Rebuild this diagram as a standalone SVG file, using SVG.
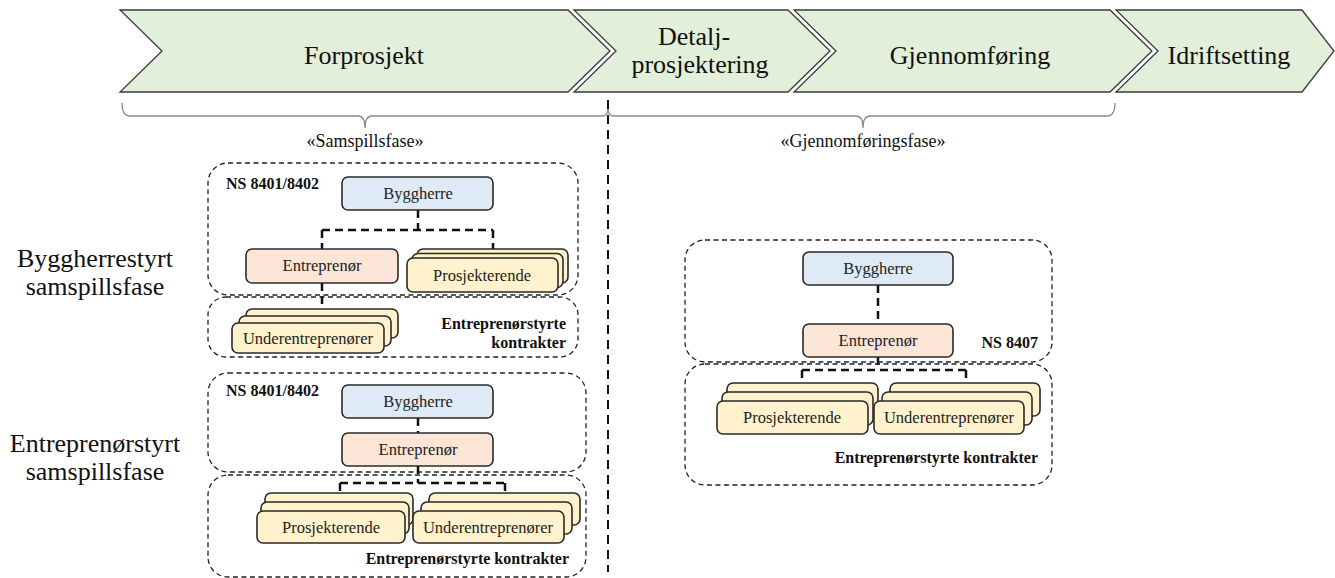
<svg xmlns="http://www.w3.org/2000/svg" width="1335" height="578" viewBox="0 0 1335 578">
  <defs>
    <style>
      .phase { fill: #e2efda; stroke: #3a3a3a; stroke-width: 1.3; }
      .phase-t { font-family: "Liberation Serif", "Times New Roman", serif; font-size: 26px; fill: #111; text-anchor: middle; }
      .side-t { font-family: "Liberation Serif", "Times New Roman", serif; font-size: 26px; fill: #111; text-anchor: middle; }
      .fase-t { font-family: "Liberation Serif", "Times New Roman", serif; font-size: 18px; fill: #111; text-anchor: middle; }
      .brace { fill: none; stroke: #8a8a8a; stroke-width: 1.3; }
      .divider { fill: none; stroke: #111; stroke-width: 2; stroke-dasharray: 9 6; }
      .frame { fill: none; stroke: #222; stroke-width: 1.3; stroke-dasharray: 5 3.5; }
      .box { stroke: #2a2a2a; stroke-width: 1.6; }
      .client { fill: #deebf7; }
      .contractor { fill: #fbe5d6; }
      .sub { fill: #fff2cc; }
      .label { font-family: "Liberation Serif", "Times New Roman", serif; font-size: 16.5px; fill: #222; text-anchor: middle; }
      .std { font-family: "Liberation Serif", "Times New Roman", serif; font-size: 16px; font-weight: bold; fill: #111; }
      .link { fill: none; stroke: #111; stroke-width: 2.5; stroke-dasharray: 8 5; }
    </style>
  </defs>

  <rect width="1335" height="578" fill="#ffffff"/>

  <!-- Phase chevrons -->
  <g id="phases">
    <g id="phase-forprosjekt">
      <polygon class="phase" points="120,10 568,10 610,51 568,92 120,92 162,51"/>
      <text class="phase-t" x="364" y="64">Forprosjekt</text>
    </g>
    <g id="phase-detaljprosjektering">
      <polygon class="phase" points="574,10 788,10 830,51 788,92 574,92 616,51"/>
      <text class="phase-t" x="694" y="45">Detalj-</text>
      <text class="phase-t" x="700" y="73">prosjektering</text>
    </g>
    <g id="phase-gjennomforing">
      <polygon class="phase" points="794,10 1110,10 1152,51 1110,92 794,92 836,51"/>
      <text class="phase-t" x="970" y="64">Gjennomføring</text>
    </g>
    <g id="phase-idriftsetting">
      <polygon class="phase" points="1116,10 1302,10 1334,51 1302,92 1116,92 1158,51"/>
      <text class="phase-t" x="1229" y="64">Idriftsetting</text>
    </g>
  </g>

  <!-- Braces under the phases -->
  <g id="braces">
    <path class="brace" d="M122,103 Q122,116 130,116 L358,116 Q365,116 365,128 Q365,116 372,116 L602,116 Q608,116 608,109"/>
    <path class="brace" d="M608,109 Q608,116 614,116 L856,116 Q863,116 863,128 Q863,116 870,116 L1107,116 Q1115,116 1115,103"/>
    <text class="fase-t" x="365" y="147">«Samspillsfase»</text>
    <text class="fase-t" x="863" y="147">«Gjennomføringsfase»</text>
  </g>

  <line class="divider" x1="608" y1="100" x2="608" y2="572"/>

  <!-- Row labels -->
  <g id="row-labels">
    <text class="side-t" x="95" y="267">Byggherrestyrt</text>
    <text class="side-t" x="95" y="295">samspillsfase</text>
    <text class="side-t" x="95" y="452">Entreprenørstyrt</text>
    <text class="side-t" x="95" y="480">samspillsfase</text>
  </g>

  <!-- Frames -->
  <g id="frames">
    <rect class="frame" x="208" y="163" width="370" height="132" rx="20"/>
    <rect class="frame" x="208" y="297" width="370" height="60" rx="18"/>
    <rect class="frame" x="208" y="373" width="378" height="99" rx="20"/>
    <rect class="frame" x="208" y="475" width="378" height="102" rx="20"/>
    <rect class="frame" x="685" y="240" width="367" height="122" rx="20"/>
    <rect class="frame" x="685" y="364" width="367" height="121" rx="20"/>
  </g>

  <!-- Connectors -->
  <g id="connectors">
    <path class="link" d="M418,210 L418,230 M322,230 L493,230 M322,230 L322,249 M493,230 L493,249"/>
    <path class="link" d="M322,283 L322,310"/>
    <path class="link" d="M418,418 L418,433"/>
    <path class="link" d="M418,466 L418,483 M340,483 L505,483 M340,483 L340,493 M505,483 L505,493"/>
    <path class="link" d="M878,285 L878,324"/>
    <path class="link" d="M878,357 L878,370 M802,370 L966,370 M802,370 L802,383 M966,370 L966,383"/>
  </g>

  <!-- Byggherrestyrt samspillsfase -->
  <g id="bs-standard">
    <text class="std" x="226" y="189">NS 8401/8402</text>
  </g>
  <g id="bs-byggherre">
    <rect class="box client" x="342" y="177" width="151" height="33" rx="6"/>
    <text class="label" x="418" y="199">Byggherre</text>
  </g>
  <g id="bs-entreprenor">
    <rect class="box contractor" x="246" y="249" width="152" height="34" rx="6"/>
    <text class="label" x="322" y="271">Entreprenør</text>
  </g>
  <g id="bs-prosjekterende">
    <rect class="box sub" x="417" y="249" width="151" height="34" rx="6"/>
    <rect class="box sub" x="412" y="253.5" width="151" height="34" rx="6"/>
    <rect class="box sub" x="407" y="258" width="151" height="34" rx="6"/>
    <text class="label" x="482" y="281">Prosjekterende</text>
  </g>
  <g id="bs-underentreprenorer">
    <rect class="box sub" x="246" y="309" width="152" height="29" rx="6"/>
    <rect class="box sub" x="239" y="316" width="152" height="30" rx="6"/>
    <rect class="box sub" x="232" y="323" width="152" height="30" rx="6"/>
    <text class="label" x="308" y="344">Underentreprenører</text>
  </g>
  <g id="bs-kontrakter">
    <text class="std" x="566" y="329" text-anchor="end">Entreprenørstyrte</text>
    <text class="std" x="566" y="348" text-anchor="end">kontrakter</text>
  </g>

  <!-- Entreprenørstyrt samspillsfase -->
  <g id="es-standard">
    <text class="std" x="226" y="396">NS 8401/8402</text>
  </g>
  <g id="es-byggherre">
    <rect class="box client" x="342" y="385" width="151" height="33" rx="6"/>
    <text class="label" x="418" y="407">Byggherre</text>
  </g>
  <g id="es-entreprenor">
    <rect class="box contractor" x="342" y="433" width="151" height="33" rx="6"/>
    <text class="label" x="418" y="455">Entreprenør</text>
  </g>
  <g id="es-prosjekterende">
    <rect class="box sub" x="265" y="493" width="148" height="32" rx="6"/>
    <rect class="box sub" x="261" y="502" width="148" height="32" rx="6"/>
    <rect class="box sub" x="257" y="511" width="148" height="32" rx="6"/>
    <text class="label" x="331" y="533">Prosjekterende</text>
  </g>
  <g id="es-underentreprenorer">
    <rect class="box sub" x="429" y="493" width="151" height="32" rx="6"/>
    <rect class="box sub" x="421" y="502" width="151" height="32" rx="6"/>
    <rect class="box sub" x="413" y="511" width="151" height="32" rx="6"/>
    <text class="label" x="488" y="533">Underentreprenører</text>
  </g>
  <g id="es-kontrakter">
    <text class="std" x="569" y="564" text-anchor="end">Entreprenørstyrte kontrakter</text>
  </g>

  <!-- Gjennomføringsfase -->
  <g id="gf-byggherre">
    <rect class="box client" x="803" y="252" width="150" height="33" rx="6"/>
    <text class="label" x="878" y="274">Byggherre</text>
  </g>
  <g id="gf-entreprenor">
    <rect class="box contractor" x="803" y="324" width="150" height="33" rx="6"/>
    <text class="label" x="878" y="346">Entreprenør</text>
  </g>
  <g id="gf-standard">
    <text class="std" x="1038" y="348" text-anchor="end">NS 8407</text>
  </g>
  <g id="gf-prosjekterende">
    <rect class="box sub" x="727" y="383" width="151" height="33" rx="6"/>
    <rect class="box sub" x="722" y="392" width="151" height="33" rx="6"/>
    <rect class="box sub" x="717" y="401" width="151" height="33" rx="6"/>
    <text class="label" x="792" y="423">Prosjekterende</text>
  </g>
  <g id="gf-underentreprenorer">
    <rect class="box sub" x="890" y="383" width="150" height="33" rx="6"/>
    <rect class="box sub" x="882" y="392" width="150" height="33" rx="6"/>
    <rect class="box sub" x="874" y="401" width="150" height="33" rx="6"/>
    <text class="label" x="949" y="423">Underentreprenører</text>
  </g>
  <g id="gf-kontrakter">
    <text class="std" x="1038" y="463" text-anchor="end">Entreprenørstyrte kontrakter</text>
  </g>
</svg>
